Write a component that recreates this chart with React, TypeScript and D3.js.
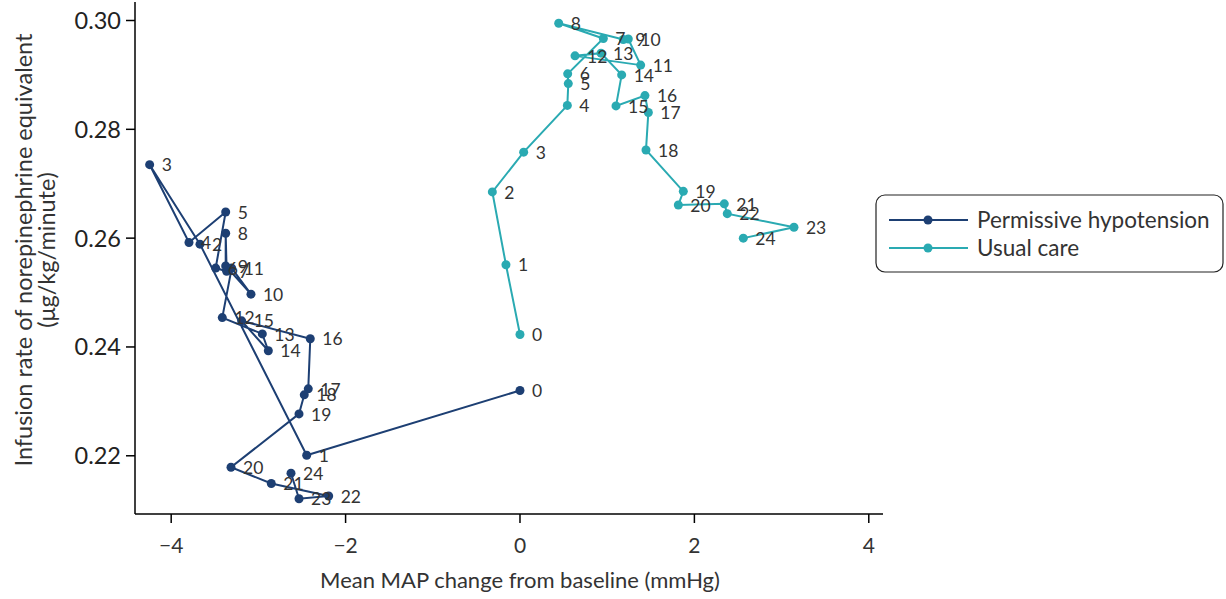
import React from "react";
import * as d3 from "d3";

const hours = d3.range(0, 25);
const phX = [0.0, -2.446, -3.67, -4.247, -3.796, -3.375, -3.49, -3.364, -3.375, -3.375, -3.085, -3.306, -3.414, -2.955, -2.886, -3.192, -2.405, -2.428, -2.474, -2.534, -3.314, -2.852, -2.194, -2.534, -2.626];
const phY = [0.232, 0.2201, 0.2589, 0.2735, 0.2592, 0.2648, 0.2545, 0.2539, 0.2609, 0.2549, 0.2497, 0.2545, 0.2454, 0.2424, 0.2393, 0.2448, 0.2415, 0.2323, 0.2312, 0.2277, 0.2179, 0.2149, 0.2126, 0.2121, 0.2168];
const ucX = [0.0, -0.161, -0.317, 0.042, 0.543, 0.554, 0.547, 0.956, 0.444, 1.185, 1.242, 1.384, 0.631, 0.929, 1.166, 1.101, 1.433, 1.472, 1.445, 1.873, 1.816, 2.343, 2.377, 3.142, 2.561];
const ucY = [0.2423, 0.2551, 0.2685, 0.2758, 0.2844, 0.2884, 0.2902, 0.2967, 0.2995, 0.2965, 0.2966, 0.2918, 0.2935, 0.294, 0.29, 0.2843, 0.2862, 0.2831, 0.2762, 0.2686, 0.2661, 0.2663, 0.2645, 0.262, 0.26];
const xTicks = [-4, -2, 0, 2, 4];
const yTicks = [0.22, 0.24, 0.26, 0.28, 0.3];
const seriesNames = ["Permissive hypotension", "Usual care"];
const seriesColors = ["#1d3f73", "#2aaab2"];

const FONT = "Lato, 'Open Sans', sans-serif";

export default function App() {
  const W = 1226, H = 599;
  const left = 135, right = 883, top = 2, bottom = 514;
  const x = d3.scaleLinear().domain([-4.415, 4.163]).range([left, right]);
  const y = d3.scaleLinear().domain([0.2093, 0.3034]).range([bottom, top]);
  const line = d3.line<[number, number]>().x(d => x(d[0])).y(d => y(d[1]));
  const series = [
    { name: seriesNames[0], color: seriesColors[0], pts: phX.map((v, i) => [v, phY[i]] as [number, number]) },
    { name: seriesNames[1], color: seriesColors[1], pts: ucX.map((v, i) => [v, ucY[i]] as [number, number]) },
  ];
  const fmtX = (v: number) => (v < 0 ? "\u2212" + Math.abs(v) : String(v));
  return (
    <svg width={W} height={H} style={{ display: "block", position: "absolute", left: 0, top: 0 }} fontFamily={FONT}>
      <rect width={W} height={H} fill="#fff" />
      <line x1={left} x2={left} y1={top} y2={bottom} stroke="#000" strokeWidth={1.5} />
      <line x1={left} x2={right} y1={bottom} y2={bottom} stroke="#000" strokeWidth={1.5} />
      {xTicks.map(t => (
        <g key={"x" + t}>
          <line x1={x(t)} x2={x(t)} y1={bottom} y2={bottom + 9} stroke="#000" strokeWidth={1.5} />
          <text x={x(t)} y={bottom + 39} textAnchor="middle" fontSize={21} fill="#333">{fmtX(t)}</text>
        </g>
      ))}
      {yTicks.map(t => (
        <g key={"y" + t}>
          <line x1={left - 9} x2={left} y1={y(t)} y2={y(t)} stroke="#000" strokeWidth={1.5} />
          <text x={left - 14} y={y(t)} dy="0.36em" textAnchor="end" fontSize={23.5} fill="#222">{d3.format(".2f")(t)}</text>
        </g>
      ))}
      <text x={520} y={588} textAnchor="middle" fontSize={22} fill="#333">Mean MAP change from baseline (mmHg)</text>
      <g transform="translate(24,250) rotate(-90)">
        <text x={0} y={0} dy="0.35em" textAnchor="middle" fontSize={23.5} fill="#333">Infusion rate of norepinephrine equivalent</text>
        <text x={0} y={23} dy="0.35em" textAnchor="middle" fontSize={23.5} fill="#333">(μg/kg/minute)</text>
      </g>
      {series.map(s => (
        <g key={s.name}>
          <path d={line(s.pts) || ""} fill="none" stroke={s.color} strokeWidth={2} />
          {s.pts.map((p, i) => (
            <circle key={i} cx={x(p[0])} cy={y(p[1])} r={4.5} fill={s.color} />
          ))}
          {s.pts.map((p, i) => (
            <text key={"t" + i} x={x(p[0]) + 12} y={y(p[1])} dy="0.38em" fontSize={17.5} fill="#333">{hours[i]}</text>
          ))}
        </g>
      ))}
      <rect x={876} y={195} width={347} height={77} rx={9} fill="#fff" stroke="#222" strokeWidth={1.2} />
      {series.map((s, i) => (
        <g key={"lg" + i} transform={`translate(0,${220 + i * 28})`}>
          <line x1={889} x2={968} y1={0} y2={0} stroke={s.color} strokeWidth={2} />
          <circle cx={928} cy={0} r={4.5} fill={s.color} />
          <text x={977} y={0} dy="0.35em" fontSize={22.5} fill="#333">{s.name}</text>
        </g>
      ))}
    </svg>
  );
}
